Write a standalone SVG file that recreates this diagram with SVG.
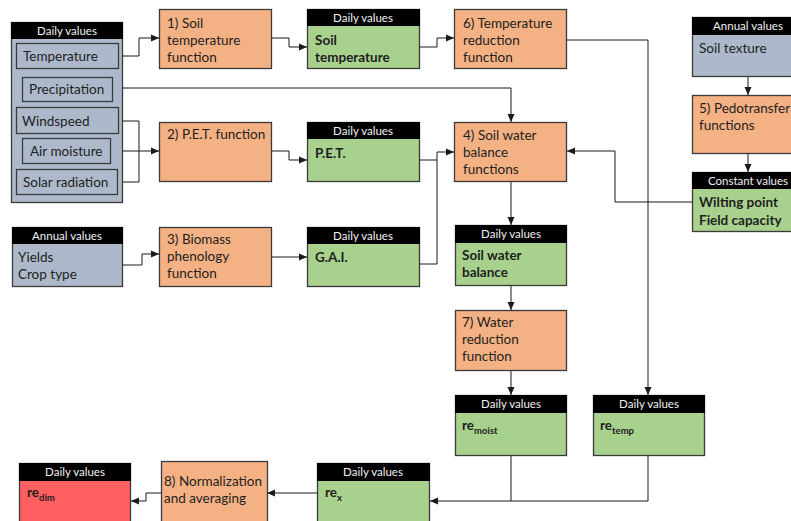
<svg xmlns="http://www.w3.org/2000/svg" width="791" height="521" viewBox="0 0 791 521">
<defs>
<marker id="ah" viewBox="0 0 8 8" refX="8" refY="4" markerWidth="8" markerHeight="8" markerUnits="userSpaceOnUse" orient="auto">
<path d="M0,0.5 L8,4 L0,7.5 Z" fill="#1a1a1a"/>
</marker>
<style>
text{font-family:Lato,"Liberation Sans",sans-serif;font-size:13.5px;fill:#1e1e1e}
.hd{fill:#000;stroke:#000;stroke-width:1}
.ht{font-size:11.5px;fill:#f0f0f0;text-anchor:middle}
.b{font-weight:bold}
.sub{font-size:9.5px;font-weight:bold}
.or{fill:#f4b183;stroke:#3a3a3a;stroke-width:1.3}
.gr{fill:#a9d18e;stroke:#3a3a3a;stroke-width:1.3}
.bl{fill:#adb9ca;stroke:#3a3a3a;stroke-width:1.3}
.rd{fill:#ff5f5f;stroke:#3a3a3a;stroke-width:1.3}
.c{fill:none;stroke:#1a1a1a;stroke-width:1}
.ca{fill:none;stroke:#1a1a1a;stroke-width:1;marker-end:url(#ah)}
</style>
</defs>
<g id="connectors">
<path class="ca" d="M119,56 H139 V38 H159"/>
<path class="ca" d="M118,88 H511 V122"/>
<path class="c" d="M119,121 H139 V182 H118"/>
<path class="ca" d="M117,151 H159"/>
<path class="ca" d="M272,38 H289 V47 H307"/>
<path class="ca" d="M419,47 H437 V38 H454"/>
<path class="ca" d="M567,40 H648 V395"/>
<path class="ca" d="M272,151 H289 V160 H307"/>
<path class="c" d="M419,160 H437"/>
<path class="ca" d="M419,264 H437 V152 H454"/>
<path class="ca" d="M123,265 H142 V254 H159"/>
<path class="ca" d="M272,257 H307"/>
<path class="ca" d="M511,182 V225"/>
<path class="ca" d="M511,286 V310"/>
<path class="ca" d="M511,371 V395"/>
<path class="ca" d="M748,77 V95"/>
<path class="ca" d="M748,154 V172"/>
<path class="ca" d="M692,202 H615 V151 H567"/>
<path class="c" d="M511,456 V501"/>
<path class="ca" d="M648,456 V501 H430"/>
<path class="ca" d="M317,493 H267"/>
<path class="ca" d="M161,493 H146 V501 H131"/>
</g>
<g id="daily-inputs">
<rect class="bl" x="11.5" y="22.5" width="111" height="180"/>
<rect class="hd" x="11.5" y="22.5" width="111" height="16"/>
<text class="ht" x="67" y="35">Daily values</text>
</g>
<g id="temperature"><rect class="bl" x="16.5" y="43.5" width="102" height="25"/><text x="23" y="61">Temperature</text></g>
<g id="precipitation"><rect class="bl" x="22.5" y="77.5" width="90" height="24"/><text x="29" y="94">Precipitation</text></g>
<g id="windspeed"><rect class="bl" x="16.5" y="107.5" width="102" height="26"/><text x="22" y="126">Windspeed</text></g>
<g id="air-moisture"><rect class="bl" x="22.5" y="138.5" width="88" height="25"/><text x="30" y="156">Air moisture</text></g>
<g id="solar-radiation"><rect class="bl" x="16.5" y="169.5" width="101" height="25"/><text x="23" y="187">Solar radiation</text></g>

<g id="f1"><rect class="or" x="159.5" y="9.5" width="112" height="59"/>
<text x="167" y="28">1) Soil</text><text x="167" y="45">temperature</text><text x="167" y="62">function</text></g>
<g id="soil-temperature"><rect class="gr" x="307.5" y="9.5" width="112" height="59"/><rect class="hd" x="307.5" y="9.5" width="112" height="16"/>
<text class="ht" x="363" y="22">Daily values</text>
<text class="b" x="315" y="45">Soil</text><text class="b" x="315" y="62">temperature</text></g>
<g id="f6"><rect class="or" x="454.5" y="9.5" width="112" height="59"/>
<text x="463" y="28">6) Temperature</text><text x="463" y="45">reduction</text><text x="463" y="62">function</text></g>

<g id="f2"><rect class="or" x="159.5" y="122.5" width="112" height="59"/>
<text x="167" y="139">2) P.E.T. function</text></g>
<g id="pet"><rect class="gr" x="307.5" y="122.5" width="112" height="59"/><rect class="hd" x="307.5" y="122.5" width="112" height="16"/>
<text class="ht" x="363" y="135">Daily values</text>
<text class="b" x="315" y="158">P.E.T.</text></g>
<g id="f4"><rect class="or" x="454.5" y="122.5" width="112" height="59"/>
<text x="463" y="140">4) Soil water</text><text x="463" y="157">balance</text><text x="463" y="174">functions</text></g>

<g id="annual-crop"><rect class="bl" x="12.5" y="227.5" width="110" height="59"/><rect class="hd" x="12.5" y="227.5" width="110" height="16"/>
<text class="ht" x="67" y="240">Annual values</text>
<text x="18" y="262">Yields</text><text x="18" y="279">Crop type</text></g>
<g id="f3"><rect class="or" x="159.5" y="227.5" width="112" height="59"/>
<text x="167" y="244">3) Biomass</text><text x="167" y="261">phenology</text><text x="167" y="278">function</text></g>
<g id="gai"><rect class="gr" x="307.5" y="227.5" width="112" height="59"/><rect class="hd" x="307.5" y="227.5" width="112" height="16"/>
<text class="ht" x="363" y="240">Daily values</text>
<text class="b" x="315" y="262">G.A.I.</text></g>

<g id="soil-texture"><rect class="bl" x="692.5" y="17.5" width="112" height="59"/><rect class="hd" x="692.5" y="17.5" width="112" height="17"/>
<text class="ht" x="748" y="30">Annual values</text>
<text x="699" y="53">Soil texture</text></g>
<g id="f5"><rect class="or" x="692.5" y="95.5" width="112" height="58"/>
<text x="699" y="113">5) Pedotransfer</text><text x="699" y="130">functions</text></g>
<g id="constants"><rect class="gr" x="692.5" y="172.5" width="112" height="59"/><rect class="hd" x="692.5" y="172.5" width="112" height="16"/>
<text class="ht" x="748" y="185">Constant values</text>
<text class="b" x="699" y="207">Wilting point</text><text class="b" x="699" y="225">Field capacity</text></g>

<g id="soil-water-balance"><rect class="gr" x="455.5" y="225.5" width="111" height="60"/><rect class="hd" x="455.5" y="225.5" width="111" height="17"/>
<text class="ht" x="511" y="238">Daily values</text>
<text class="b" x="462" y="260">Soil water</text><text class="b" x="462" y="277">balance</text></g>
<g id="f7"><rect class="or" x="455.5" y="310.5" width="111" height="60"/>
<text x="462" y="327">7) Water</text><text x="462" y="344">reduction</text><text x="462" y="361">function</text></g>
<g id="re-moist"><rect class="gr" x="455.5" y="395.5" width="111" height="60"/><rect class="hd" x="455.5" y="395.5" width="111" height="17"/>
<text class="ht" x="511" y="408">Daily values</text>
<text class="b" x="462" y="430">re<tspan class="sub" dy="4">moist</tspan></text></g>
<g id="re-temp"><rect class="gr" x="593.5" y="395.5" width="111" height="60"/><rect class="hd" x="593.5" y="395.5" width="111" height="17"/>
<text class="ht" x="649" y="408">Daily values</text>
<text class="b" x="600" y="430">re<tspan class="sub" dy="4">temp</tspan></text></g>

<g id="re-x"><rect class="gr" x="317.5" y="463.5" width="112" height="70"/><rect class="hd" x="317.5" y="463.5" width="112" height="17"/>
<text class="ht" x="373" y="476">Daily values</text>
<text class="b" x="325" y="497">re<tspan class="sub" dy="4">x</tspan></text></g>
<g id="f8"><rect class="or" x="161.5" y="461.5" width="106" height="70"/>
<text x="164" y="486">8) Normalization</text><text x="164" y="503">and averaging</text></g>
<g id="re-dim"><rect class="rd" x="19.5" y="463.5" width="111" height="70"/><rect class="hd" x="19.5" y="463.5" width="111" height="17"/>
<text class="ht" x="75" y="476">Daily values</text>
<text class="b" x="27" y="497">re<tspan class="sub" dy="4">dim</tspan></text></g>
</svg>
